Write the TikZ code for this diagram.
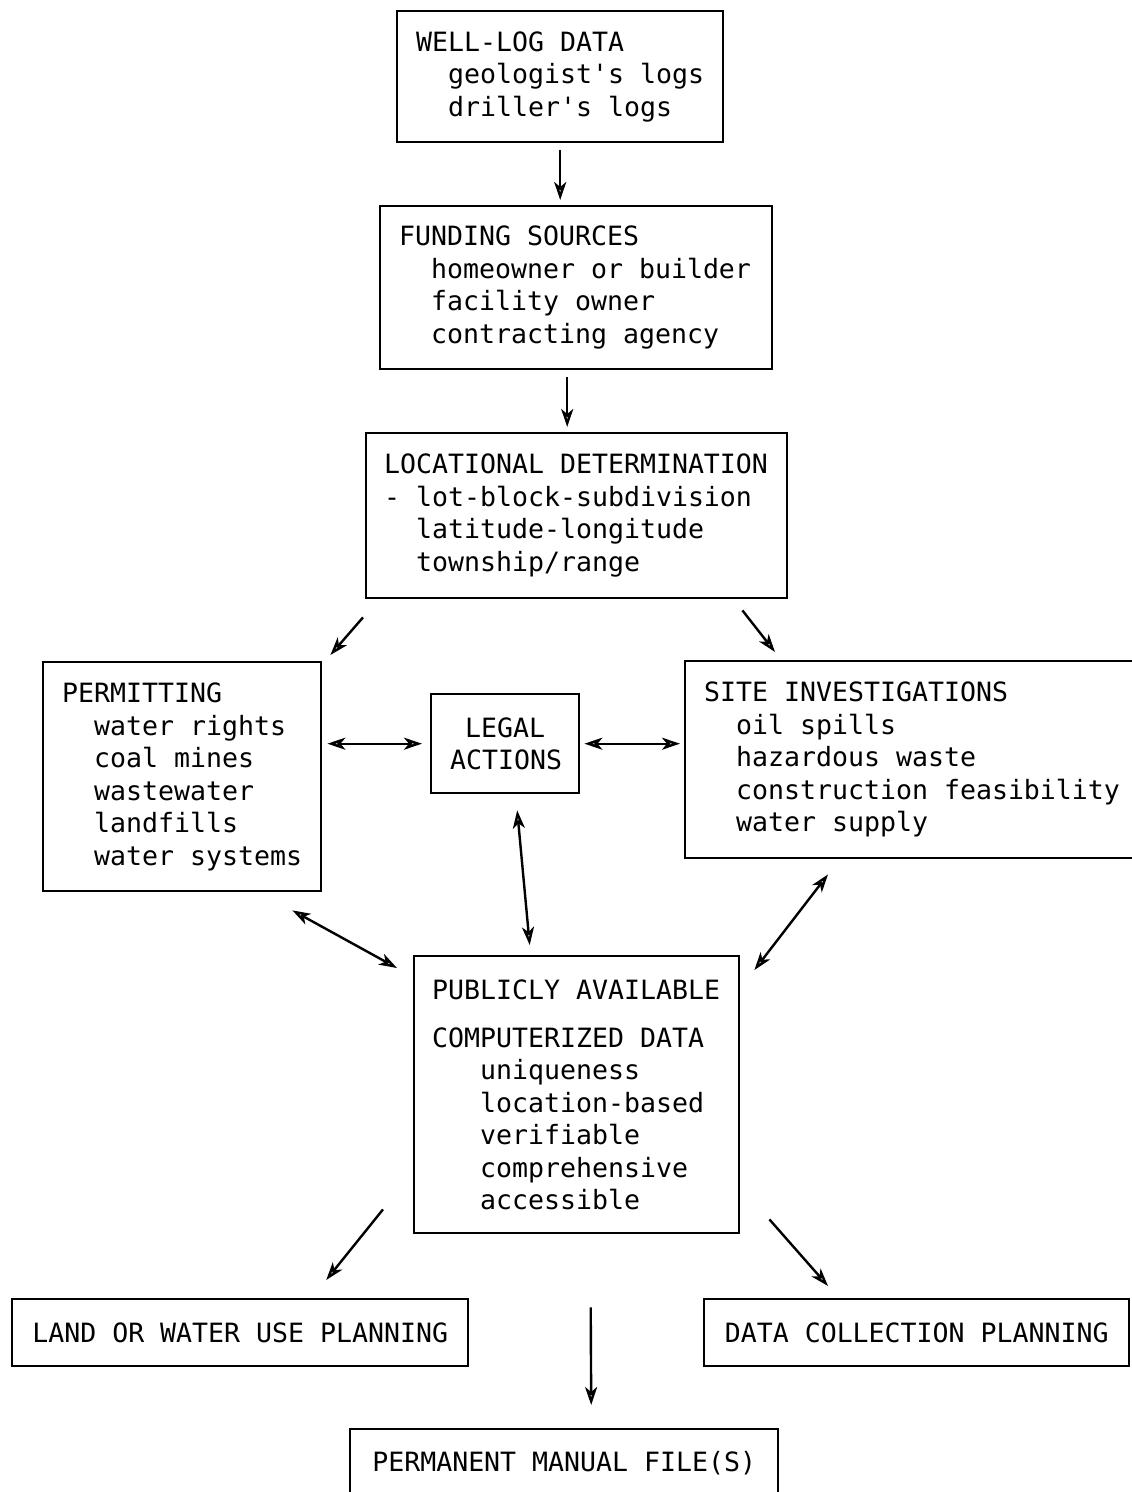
\documentclass[tikz,border=0pt]{standalone}
\usepackage{fontspec}
\setmonofont{DejaVu Sans Mono}[WordSpace={1,0,0}]
\usetikzlibrary{arrows.meta}
\newcommand{\lead}{\hphantom{xx}}
\newcommand{\leadd}{\hphantom{xxx}}
\tikzset{
  box/.style={draw,line width=1.2pt,anchor=north west,align=flush left,inner xsep=9.5pt,inner ysep=0pt,
    font=\ttfamily\fontsize{13.28}{16.25}\selectfont},
  bar/.style={box,align=center,inner xsep=0pt},
  link/.style={line width=1.2pt},
}
\begin{document}
\begin{tikzpicture}[x=0.5pt,y=-0.5pt,>={Stealth[length=9pt,width=6pt,inset=2.5pt,fill=gray!40]}]
  \useasboundingbox (0,0) rectangle (1131,1492);
  % boxes, placed at their top left corners
  \node[box,text width=144pt,minimum height=65.5pt] (well) at (396,10)
    {WELL-LOG DATA\\\lead geologist's logs\\\lead driller's logs};
  \node[box,text width=177pt,minimum height=81.5pt] (fund) at (379,205)
    {FUNDING SOURCES\\\lead homeowner or builder\\\lead facility owner\\\lead contracting agency};
  \node[box,inner xsep=9pt,text width=192.5pt,minimum height=82.5pt] (loc) at (365,432)
    {LOCATIONAL DETERMINATION\\- lot-block-subdivision\\\lead latitude-longitude\\\lead township/range};
  \node[box,text width=120pt,minimum height=114.5pt] (perm) at (42,661)
    {PERMITTING\\\lead water rights\\\lead coal mines\\\lead wastewater\\\lead landfills\\\lead water systems};
  \node[box,align=center,text width=55pt,minimum height=49.5pt] (legal) at (430,693)
    {LEGAL\\ACTIONS};
  \node[box,text width=221pt,minimum height=98.5pt] (site) at (684,660)
    {SITE INVESTIGATIONS\\\lead oil spills\\\lead hazardous waste\\\lead construction feasibility\\\lead water supply};
  \node[box,inner xsep=9pt,text width=144.5pt,minimum height=138.5pt] (public) at (413,955)
    {PUBLICLY AVAILABLE\\[7.75pt]COMPUTERIZED DATA\\\leadd uniqueness\\\leadd location-based\\\leadd verifiable\\\leadd comprehensive\\\leadd accessible};
  \node[bar,minimum width=228pt,minimum height=33.5pt] (land) at (11,1298) {LAND OR WATER USE PLANNING};
  \node[bar,minimum width=212.5pt,minimum height=33.5pt] (data) at (703,1298) {DATA COLLECTION PLANNING};
  \node[bar,minimum width=214pt,minimum height=34pt] (file) at (349,1428) {PERMANENT MANUAL FILE(S)};
  % arrows
  \draw[link,->] ([yshift=-3.5pt]well.south) -- ([yshift=2.5pt]well.south |- fund.north);
  \draw[link,->] ([xshift=-4.5pt,yshift=-3.5pt]fund.south) -- ([xshift=-4.5pt,yshift=2.5pt]fund.south |- loc.north);
  \draw[link,->] ([xshift=-1pt,yshift=-9pt]loc.south west) -- ([xshift=4pt,yshift=3pt]perm.north east);
  \draw[link,->] ([xshift=-23pt,yshift=-5.5pt]loc.south east) -- ([xshift=45.5pt,yshift=4pt]site.north west);
  \draw[link,<->] ([xshift=2.5pt]legal.west -| perm.east) -- ([xshift=-4pt]legal.west);
  \draw[link,<->] ([xshift=2pt]legal.east) -- ([xshift=-2pt]legal.east -| site.west);
  \draw[link,<->] ([xshift=6pt,yshift=-8pt]legal.south) -- ([xshift=-23.5pt,yshift=5pt]public.north);
  \draw[link,<->] ([xshift=-15pt,yshift=-9pt]perm.south east) -- ([xshift=-8pt,yshift=-6.5pt]public.north west);
  \draw[link,<->] ([xshift=72pt,yshift=-7.5pt]site.south west) -- ([xshift=7pt,yshift=-7.5pt]public.north east);
  \draw[link,->] ([xshift=-15pt,yshift=12.5pt]public.south west) -- ([xshift=43pt,yshift=9pt]land.north);
  \draw[link,->] ([xshift=14.5pt,yshift=7.5pt]public.south east) -- ([xshift=62.5pt,yshift=6pt]data.north west);
  \draw[link,->] ([xshift=7pt,yshift=-36.5pt]public.south) -- ([xshift=13.5pt,yshift=11.5pt]file.north);
\end{tikzpicture}
\end{document}
